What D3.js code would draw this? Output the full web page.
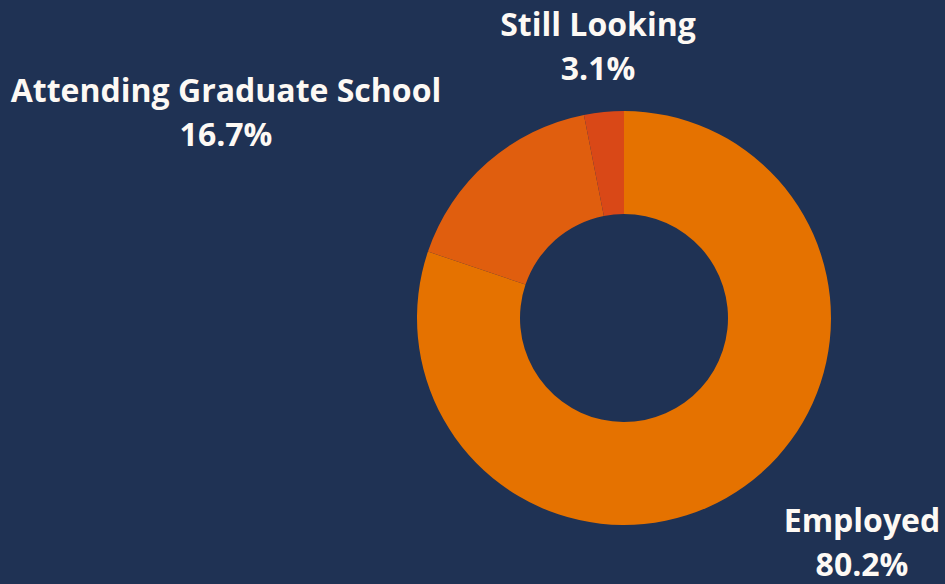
<!doctype html>
<html>
  <head>
    <script src="https://cdn.jsdelivr.net/npm/d3@7"></script>
    <style>
      body { margin: 0; background: #1f3254; }
      text { font-family: "Open Sans", sans-serif; font-weight: 700; fill: #fdf9f4; }
    </style>
  </head>
  <body>
    <svg id="chart" width="945" height="584" viewBox="0 0 945 584"></svg>

    <script>
      var categories = ["Employed", "Attending Graduate School", "Still Looking"];
      var shares = [80.2, 16.7, 3.1];
      var colors = ["#e57200", "#e05e0e", "#d94817"];

      // label anchor spots (centre x, baseline of first line)
      var labelSpots = [[862, 532], [226, 102], [598, 36]];

      var svg = d3.select("#chart");
      svg.append("rect").attr("width", 945).attr("height", 584).attr("fill", "#1f3254");

      var cx = 624, cy = 318;
      var pie = d3.pie().sort(null).value(function(d) { return d; });
      var arc = d3.arc().innerRadius(104).outerRadius(207);

      var g = svg.append("g").attr("transform", "translate(" + cx + "," + cy + ")");
      g.selectAll("path")
        .data(pie(shares))
        .enter()
        .append("path")
        .attr("d", arc)
        .attr("fill", function(d, i) { return colors[i]; })

      var labels = svg.selectAll("text.lbl")
        .data(categories)
        .enter()
        .append("text")
        .attr("class", "lbl")
        .attr("text-anchor", "middle")
        .attr("font-size", 32)
        .attr("x", function(d, i) { return labelSpots[i][0]; })
        .attr("y", function(d, i) { return labelSpots[i][1]; })

      labels.append("tspan").text(function(d) { return d; });
      labels.append("tspan")
        .attr("x", function(d, i) { return labelSpots[i][0]; })
        .attr("dy", 44)
        .text(function(d, i) { return shares[i].toFixed(1) + "%"; });
    </script>
  </body>
</html>
